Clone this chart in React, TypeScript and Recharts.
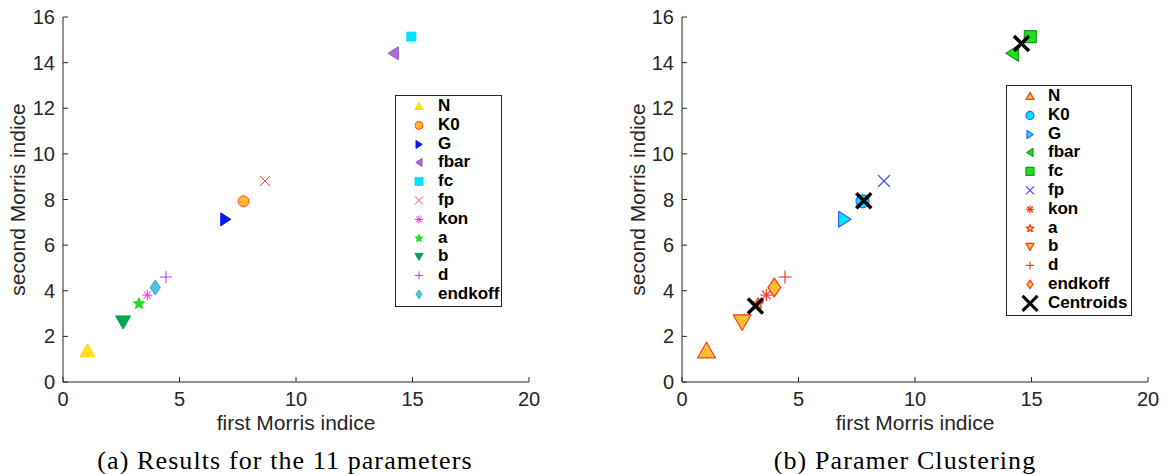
import React from "react";
import { ScatterChart, Scatter, XAxis, YAxis, Legend } from "recharts";

const params = ["N", "K0", "G", "fbar", "fc", "fp", "kon", "a", "b", "d", "endkoff"];
const firstMorris = [1.05, 7.75, 6.98, 14.18, 14.95, 8.67, 3.62, 3.26, 2.58, 4.42, 3.96];
const secondMorris = [1.35, 7.92, 7.13, 14.41, 15.14, 8.81, 3.81, 3.43, 2.65, 4.6, 4.14];
const clusterOf = [0, 1, 1, 2, 2, 1, 0, 0, 0, 0, 0];
const centroidFirst = [3.15, 7.8, 14.57];
const centroidSecond = [3.33, 7.95, 14.84];
const xTicks = [0, 5, 10, 15, 20];
const yTicks = [0, 2, 4, 6, 8, 10, 12, 14, 16];

type Kind =
  | "triUp" | "triDown" | "triRight" | "triLeft" | "circle" | "square"
  | "diamond" | "x" | "plus" | "asterisk" | "star" | "bigX";

const AXIS = "#262626";
const SANS = "'Liberation Sans', Arial, Helvetica, sans-serif";
const SERIF = "'Liberation Serif', 'Times New Roman', serif";

// marker kind + size for each parameter (left plot / right plot)
const kinds: Record<string, Kind> = {
  N: "triUp", K0: "circle", G: "triRight", fbar: "triLeft", fc: "square", fp: "x",
  kon: "asterisk", a: "star", b: "triDown", d: "plus", endkoff: "diamond",
};
const sizeA: Record<string, number> = {
  N: 15, K0: 11, G: 13, fbar: 13, fc: 9, fp: 10, kon: 10, a: 12, b: 15, d: 12, endkoff: 12,
};
const sizeB: Record<string, number> = {
  N: 18, K0: 13, G: 16, fbar: 16, fc: 12, fp: 12, kon: 12, a: 12, b: 18, d: 13, endkoff: 15,
};

// colours for plot (a)
const styleA: Record<string, { fill: string; stroke: string }> = {
  N: { fill: "#FFE21F", stroke: "#FFD60A" },
  K0: { fill: "#FFB833", stroke: "#FF5436" },
  G: { fill: "#0A18F0", stroke: "#0A18F0" },
  fbar: { fill: "#A970D6", stroke: "#9A4FE0" },
  fc: { fill: "#00E4FF", stroke: "#00E4FF" },
  fp: { fill: "none", stroke: "#FF4A4A" },
  kon: { fill: "none", stroke: "#FF1CFF" },
  a: { fill: "#1EE01E", stroke: "#1EE01E" },
  b: { fill: "#00A650", stroke: "#00A650" },
  d: { fill: "none", stroke: "#A347E8" },
  endkoff: { fill: "#4DC3E6", stroke: "#35A8D8" },
};

// colours for plot (b), per cluster
const clusterFill = ["#FFC22E", "#00E8FF", "#1FE01F"];
const clusterStroke = ["#FF3A2A", "#3560FF", "#1A9A1A"];

function Marker({ kind, cx, cy, size, fill, stroke, sw = 1 }: {
  kind: Kind; cx: number; cy: number; size: number; fill: string; stroke: string; sw?: number;
}) {
  const h = size / 2;
  const common = { fill, stroke, strokeWidth: sw, strokeLinejoin: "round" as const };
  switch (kind) {
    case "triUp":
      return <polygon {...common} points={`${cx},${cy - h} ${cx - h},${cy + h * 0.75} ${cx + h},${cy + h * 0.75}`} />;
    case "triDown":
      return <polygon {...common} points={`${cx},${cy + h} ${cx - h},${cy - h * 0.75} ${cx + h},${cy - h * 0.75}`} />;
    case "triRight":
      return <polygon {...common} points={`${cx + h * 0.8},${cy} ${cx - h * 0.75},${cy - h} ${cx - h * 0.75},${cy + h}`} />;
    case "triLeft":
      return <polygon {...common} points={`${cx - h * 0.8},${cy} ${cx + h * 0.75},${cy - h} ${cx + h * 0.75},${cy + h}`} />;
    case "circle":
      return <circle {...common} cx={cx} cy={cy} r={h} />;
    case "square":
      return <rect {...common} x={cx - h} y={cy - h} width={size} height={size} />;
    case "diamond":
      return <polygon {...common} points={`${cx},${cy - h * 1.25} ${cx + h * 0.85},${cy} ${cx},${cy + h * 1.25} ${cx - h * 0.85},${cy}`} />;
    case "x":
    case "bigX":
      return (
        <g stroke={stroke} strokeWidth={sw}>
          <line x1={cx - h} y1={cy - h} x2={cx + h} y2={cy + h} />
          <line x1={cx - h} y1={cy + h} x2={cx + h} y2={cy - h} />
        </g>
      );
    case "plus":
      return (
        <g stroke={stroke} strokeWidth={sw}>
          <line x1={cx - h} y1={cy} x2={cx + h} y2={cy} />
          <line x1={cx} y1={cy - h} x2={cx} y2={cy + h} />
        </g>
      );
    case "asterisk": {
      const d = h * 0.72;
      return (
        <g stroke={stroke} strokeWidth={sw}>
          <line x1={cx - h} y1={cy} x2={cx + h} y2={cy} />
          <line x1={cx} y1={cy - h} x2={cx} y2={cy + h} />
          <line x1={cx - d} y1={cy - d} x2={cx + d} y2={cy + d} />
          <line x1={cx - d} y1={cy + d} x2={cx + d} y2={cy - d} />
        </g>
      );
    }
    case "star": {
      const pts: string[] = [];
      for (let k = 0; k < 10; k++) {
        const r = k % 2 === 0 ? h : h * 0.45;
        const ang = -Math.PI / 2 + (k * Math.PI) / 5;
        pts.push(`${cx + r * Math.cos(ang)},${cy + r * Math.sin(ang)}`);
      }
      return <polygon {...common} points={pts.join(" ")} />;
    }
  }
  return null;
}

type LegendItem = { label: string; kind: Kind; size: number; fill: string; stroke: string; sw?: number };

function LegendBox({ items, width, markerX, textX }: {
  items: LegendItem[]; width: number; markerX: number; textX: number;
}) {
  return (
    <div style={{ width, border: `1px solid ${AXIS}`, background: "#fff", padding: "1px 0 2px", boxSizing: "border-box" }}>
      {items.map((it) => (
        <div key={it.label} style={{ position: "relative", height: 18.8 }}>
          <svg width={24} height={19} style={{ position: "absolute", left: markerX - 12, top: 0 }}>
            <Marker kind={it.kind} cx={12} cy={9.4} size={it.size} fill={it.fill} stroke={it.stroke} sw={it.sw} />
          </svg>
          <span style={{
            position: "absolute", left: textX, top: 0, lineHeight: "18.8px",
            fontFamily: SANS, fontWeight: 700, fontSize: 17, color: "#000",
          }}>{it.label}</span>
        </div>
      ))}
    </div>
  );
}

const tickStyle = { fill: AXIS, fontSize: 20, fontFamily: SANS };

function xLabel({ viewBox }: any) {
  const cx = viewBox.x + viewBox.width / 2;
  return (
    <text x={cx} y={viewBox.y + 48} textAnchor="middle" fill={AXIS} fontSize={21} fontFamily={SANS}>
      first Morris indice
    </text>
  );
}

function yLabel({ viewBox }: any) {
  const x = viewBox.x + 25;
  const y = viewBox.y + viewBox.height / 2;
  return (
    <text x={x} y={y} transform={`rotate(-90 ${x} ${y})`} textAnchor="middle" fill={AXIS} fontSize={21} fontFamily={SANS}>
      second Morris indice
    </text>
  );
}

const legendA: LegendItem[] = params.map((p) => ({
  label: p, kind: kinds[p], size: kinds[p] === "diamond" ? 7 : 8,
  fill: styleA[p].fill, stroke: styleA[p].stroke,
}));

const legendB: LegendItem[] = [
  ...params.map((p, i) => {
    const c = clusterOf[i];
    const line = kinds[p] === "x" || kinds[p] === "plus" || kinds[p] === "asterisk";
    return {
      label: p, kind: kinds[p], size: kinds[p] === "diamond" ? 7 : 8,
      fill: line ? "none" : clusterFill[c], stroke: kinds[p] === "x" ? "#4D4DFF" : clusterStroke[c], sw: 1.2,
    };
  }),
  { label: "Centroids", kind: "bigX" as Kind, size: 15, fill: "none", stroke: "#000", sw: 3 },
];

const captionStyle: React.CSSProperties = {
  position: "absolute", top: 447, width: 560, textAlign: "center",
  fontFamily: SERIF, fontSize: 26, letterSpacing: 1.1, color: "#000", lineHeight: "28px",
};

export default function App() {
  return (
    <div style={{ position: "absolute", left: 0, top: 0, width: 1167, height: 474, background: "#fff", overflow: "hidden" }}>
      <div style={{ position: "absolute", left: 0, top: 0 }}>
        <ScatterChart width={560} height={474} margin={{ top: 17, right: 31, bottom: 0, left: 0 }}>
          <XAxis type="number" dataKey="x" domain={[0, 20]} ticks={xTicks} height={92}
            tickSize={-5} tickMargin={15} stroke={AXIS} tick={tickStyle} label={xLabel} />
          <YAxis type="number" dataKey="y" domain={[0, 16]} ticks={yTicks} width={63}
            tickSize={-5} tickMargin={13} stroke={AXIS} tick={tickStyle} label={yLabel} />
          {params.map((p, i) => (
            <Scatter key={p} name={p} data={[{ x: firstMorris[i], y: secondMorris[i] }]} isAnimationActive={false}
              shape={(s: any) => (
                <Marker kind={kinds[p]} cx={s.cx} cy={s.cy} size={sizeA[p]} fill={styleA[p].fill} stroke={styleA[p].stroke} />
              )} />
          ))}
          <Legend layout="vertical" align="center" verticalAlign="middle"
            wrapperStyle={{ left: 395, top: 95, width: 107 }}
            content={() => <LegendBox items={legendA} width={107} markerX={23} textX={42} />} />
        </ScatterChart>
      </div>
      <div style={{ position: "absolute", left: 620, top: 0 }}>
        <ScatterChart width={547} height={474} margin={{ top: 17, right: 19, bottom: 0, left: 0 }}>
          <XAxis type="number" dataKey="x" domain={[0, 20]} ticks={xTicks} height={92}
            tickSize={-5} tickMargin={15} stroke={AXIS} tick={tickStyle} label={xLabel} />
          <YAxis type="number" dataKey="y" domain={[0, 16]} ticks={yTicks} width={62}
            tickSize={-5} tickMargin={13} stroke={AXIS} tick={tickStyle} label={yLabel} />
          {params.map((p, i) => {
            const c = clusterOf[i];
            const line = kinds[p] === "x" || kinds[p] === "plus" || kinds[p] === "asterisk";
            return (
              <Scatter key={p} name={p} data={[{ x: firstMorris[i], y: secondMorris[i] }]} isAnimationActive={false}
                shape={(s: any) => (
                  <Marker kind={kinds[p]} cx={s.cx} cy={s.cy} size={sizeB[p]}
                    fill={line ? "none" : clusterFill[c]}
                    stroke={kinds[p] === "x" ? "#4D4DFF" : clusterStroke[c]} sw={1.2} />
                )} />
            );
          })}
          <Scatter name="Centroids" data={centroidFirst.map((x, k) => ({ x, y: centroidSecond[k] }))} isAnimationActive={false}
            shape={(s: any) => <Marker kind="bigX" cx={s.cx} cy={s.cy} size={15} fill="none" stroke="#000" sw={3.5} />} />
          <Legend layout="vertical" align="center" verticalAlign="middle"
            wrapperStyle={{ left: 386, top: 85, width: 126 }}
            content={() => <LegendBox items={legendB} width={126} markerX={23} textX={41} />} />
        </ScatterChart>
      </div>
      <div style={{ ...captionStyle, left: 5 }}>(a) Results for the 11 parameters</div>
      <div style={{ ...captionStyle, left: 625 }}>(b) Paramer Clustering</div>
    </div>
  );
}
